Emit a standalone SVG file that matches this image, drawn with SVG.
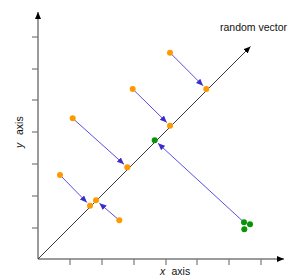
<svg xmlns="http://www.w3.org/2000/svg" width="300" height="279" viewBox="0 0 300 279">
<style>
.axis{stroke:#7a7a7a;stroke-width:1.5;fill:none}
.tick{stroke:#7a7a7a;stroke-width:1.2}
.diag{stroke:#3a3a3a;stroke-width:1}
.proj{stroke:#5a50e0;stroke-width:1;fill:none}
.lbl{font-family:"Liberation Sans",Arial,sans-serif;font-size:10.5px;fill:#111}
.or{fill:#ff9900}
.gr{fill:#079407}
</style>
<defs>
<marker id="ah" markerUnits="userSpaceOnUse" markerWidth="8" markerHeight="8" refX="7" refY="3" orient="auto">
<path d="M0,0 L7,3 L0,6 z" fill="#000"/>
</marker>
<marker id="bh" markerUnits="userSpaceOnUse" markerWidth="8" markerHeight="8" refX="7" refY="3" orient="auto">
<path d="M0,0 L7,3 L0,6 z" fill="#3a2ccc"/>
</marker>
</defs>
<g id="axes">
<line class="axis" x1="38" y1="259" x2="38" y2="12" marker-end="url(#ah)"/>
<line class="axis" x1="38" y1="259" x2="284" y2="259" marker-end="url(#ah)"/>
<g class="tick">
<line x1="32" y1="37" x2="38" y2="37"/>
<line x1="32" y1="69" x2="38" y2="69"/>
<line x1="32" y1="100" x2="38" y2="100"/>
<line x1="32" y1="132" x2="38" y2="132"/>
<line x1="32" y1="164" x2="38" y2="164"/>
<line x1="32" y1="196" x2="38" y2="196"/>
<line x1="32" y1="228" x2="38" y2="228"/>
<line x1="70" y1="259" x2="70" y2="265"/>
<line x1="102" y1="259" x2="102" y2="265"/>
<line x1="134" y1="259" x2="134" y2="265"/>
<line x1="166" y1="259" x2="166" y2="265"/>
<line x1="197" y1="259" x2="197" y2="265"/>
<line x1="229" y1="259" x2="229" y2="265"/>
<line x1="261" y1="259" x2="261" y2="265"/>
</g>
<text class="lbl" x="160" y="275"><tspan font-style="italic">x</tspan><tspan x="171.5">axis</tspan></text>
<text class="lbl" transform="translate(23,148) rotate(-90)"><tspan font-style="italic">y</tspan><tspan x="13">axis</tspan></text>
</g>
<g id="random-vector">
<line class="diag" x1="38" y1="259" x2="250.5" y2="46.5" marker-end="url(#ah)"/>
<text class="lbl" x="220" y="30.5">random vector</text>
</g>
<g id="connectors">
<line class="proj" x1="170" y1="52.7" x2="203.1" y2="85.8" marker-end="url(#bh)"/>
<line class="proj" x1="132.7" y1="89" x2="166.8" y2="122.5" marker-end="url(#bh)"/>
<line class="proj" x1="72.7" y1="118.3" x2="124" y2="164.3" marker-end="url(#bh)"/>
<line class="proj" x1="60" y1="175" x2="86.9" y2="202.5" marker-end="url(#bh)"/>
<line class="proj" x1="119.3" y1="220.3" x2="99.4" y2="203.2" marker-end="url(#bh)"/>
<line class="proj" x1="244" y1="222.3" x2="158" y2="143.3" marker-end="url(#bh)"/>
</g>
<g id="orange-points">
<circle class="or" cx="170" cy="52.7" r="3"/>
<circle class="or" cx="206.3" cy="89" r="3"/>
<circle class="or" cx="132.7" cy="89" r="3"/>
<circle class="or" cx="170" cy="125.7" r="3"/>
<circle class="or" cx="72.7" cy="118.3" r="3"/>
<circle class="or" cx="127.3" cy="167.3" r="3"/>
<circle class="or" cx="60" cy="175" r="3"/>
<circle class="or" cx="90" cy="205.7" r="3"/>
<circle class="or" cx="96" cy="200.3" r="3"/>
<circle class="or" cx="119.3" cy="220.3" r="3"/>
</g>
<g id="green-points">
<circle class="gr" cx="154.7" cy="140.3" r="3"/>
<circle class="gr" cx="244" cy="222.3" r="3"/>
<circle class="gr" cx="250" cy="224.3" r="3"/>
<circle class="gr" cx="244.3" cy="229.3" r="3"/>
</g>
</svg>
